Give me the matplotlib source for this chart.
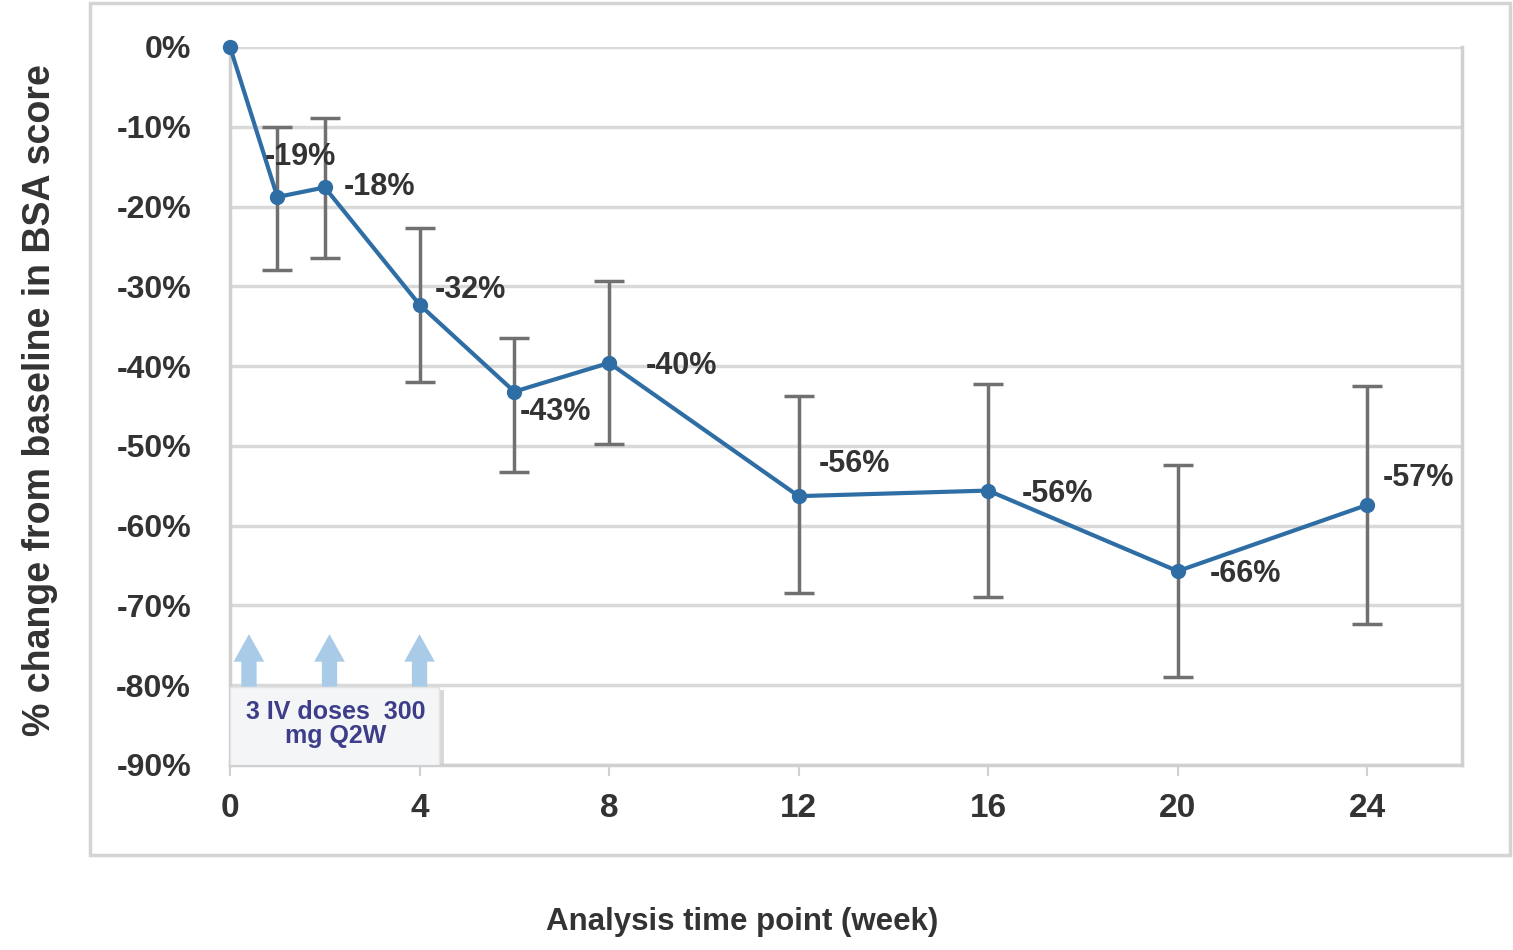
import matplotlib
matplotlib.use("Agg")
import matplotlib.pyplot as plt
from matplotlib.patches import Rectangle, FancyBboxPatch
import numpy as np

plt.rcParams['font.family'] = ['Liberation Sans', 'DejaVu Sans']

weeks = [0, 1, 2, 4, 6, 8, 12, 16, 20, 24]
mean_change = [0.0, -18.8, -17.6, -32.3, -43.2, -39.6, -56.3, -55.6, -65.7, -57.4]
err_upper = [None, -10.0, -8.9, -22.7, -36.5, -29.3, -43.7, -42.2, -52.4, -42.5]
err_lower = [None, -28.0, -26.4, -42.0, -53.3, -49.8, -68.5, -69.0, -79.0, -72.3]
point_labels = ["", "-19%", "-18%", "-32%", "-43%", "-40%", "-56%", "-56%", "-66%", "-57%"]
x_ticks = [0, 4, 8, 12, 16, 20, 24]
y_ticks = [0, -10, -20, -30, -40, -50, -60, -70, -80, -90]
dose_weeks = [0.4, 2.1, 4.0]
dose_text = "3 IV doses  300\nmg Q2W"

# label offsets in pixels (layout)
label_offsets = [(0, 0), (-13, 40), (19, 0), (15, 15), (5, -20), (37, -3),
                 (20, 32), (34, -3), (32, -3), (16, 27)]

fig = plt.figure(figsize=(15.13, 9.5), dpi=100)
# outer frame
fig.patches.append(Rectangle((90 / 1513, 1 - 855 / 950), (1510 - 90) / 1513, (855 - 3) / 950,
                             transform=fig.transFigure, fill=False,
                             edgecolor='#d4d4d4', linewidth=2.5))

ax = fig.add_axes([230 / 1513, 1 - 765 / 950, (1462 - 230) / 1513, (765 - 47) / 950])
ax.set_xlim(0, 26.0)
ax.set_ylim(-90, 0)

for y in y_ticks:
    ax.axhline(y, color='#d9d9d9', linewidth=2.5, zorder=0)

ax.spines['top'].set_visible(False)
for s in ['left', 'right', 'bottom']:
    ax.spines[s].set_color('#d0d0d0')
    ax.spines[s].set_linewidth(2.5)

# error bars
ew = [w for w, u in zip(weeks, err_upper) if u is not None]
em = [m for m, u in zip(mean_change, err_upper) if u is not None]
eu = [u for u in err_upper if u is not None]
el = [l for l in err_lower if l is not None]
yerr = np.array([[m - l for m, l in zip(em, el)], [u - m for m, u in zip(em, eu)]])
ax.errorbar(ew, em, yerr=yerr, fmt='none', ecolor='#707070', elinewidth=2.5,
            capsize=11, capthick=2.5, zorder=2)

ax.plot(weeks, mean_change, color='#2f6ea5', linewidth=3, marker='o',
        markersize=10, zorder=3, clip_on=False)

for w, m, lab, off in zip(weeks, mean_change, point_labels, label_offsets):
    if lab:
        ax.annotate(lab, (w, m), xytext=off, textcoords='offset pixels',
                    ha='left', va='center', fontsize=22, fontweight='bold',
                    color='#333333', zorder=4)

# dose arrows
for dw in dose_weeks:
    ax.annotate('', xy=(dw, -73.6), xytext=(dw, -80.2),
                arrowprops=dict(arrowstyle='simple,head_length=0.9,head_width=1.0,tail_width=0.5',
                                mutation_scale=22, color='#a9cbe8', lw=0,
                                shrinkA=0, shrinkB=0), zorder=3)

# text box with shadow
shadow = FancyBboxPatch((0.1, -90.4), 4.42, 9.8, boxstyle='square,pad=0',
                        facecolor='#c8c8c8', edgecolor='none', zorder=3, alpha=0.7)
ax.add_patch(shadow)
box = FancyBboxPatch((0.0, -90.0), 4.42, 9.8, boxstyle='square,pad=0',
                     facecolor='#f4f5f7', edgecolor='#e4e4e4', linewidth=1, zorder=3.5)
ax.add_patch(box)
ax.text(2.23, -84.9, dose_text, ha='center', va='center', fontsize=18,
        fontweight='bold', color='#3d3d8a', linespacing=1.0, zorder=4)

ax.set_xticks(x_ticks)
ax.set_xticklabels([str(t) for t in x_ticks])
ax.set_yticks(y_ticks)
ax.set_yticklabels([f"{t}%" for t in y_ticks])
ax.tick_params(axis='x', length=8, width=1.5, color='#d0d0d0', pad=12,
               labelsize=24, labelcolor='#333333')
ax.tick_params(axis='y', length=0, pad=28, labelsize=23, labelcolor='#333333')
for lab in ax.get_xticklabels() + ax.get_yticklabels():
    lab.set_fontweight('bold')

fig.text(40 / 1513, 1 - 400 / 950, "% change from baseline in BSA score", rotation=90,
         ha='center', va='center', fontsize=27, fontweight='bold', color='#333333')
fig.text(742 / 1513, 1 - 922 / 950, "Analysis time point (week)", ha='center', va='center',
         fontsize=22.5, fontweight='bold', color='#333333')

fig.savefig('out.png', dpi=100)
